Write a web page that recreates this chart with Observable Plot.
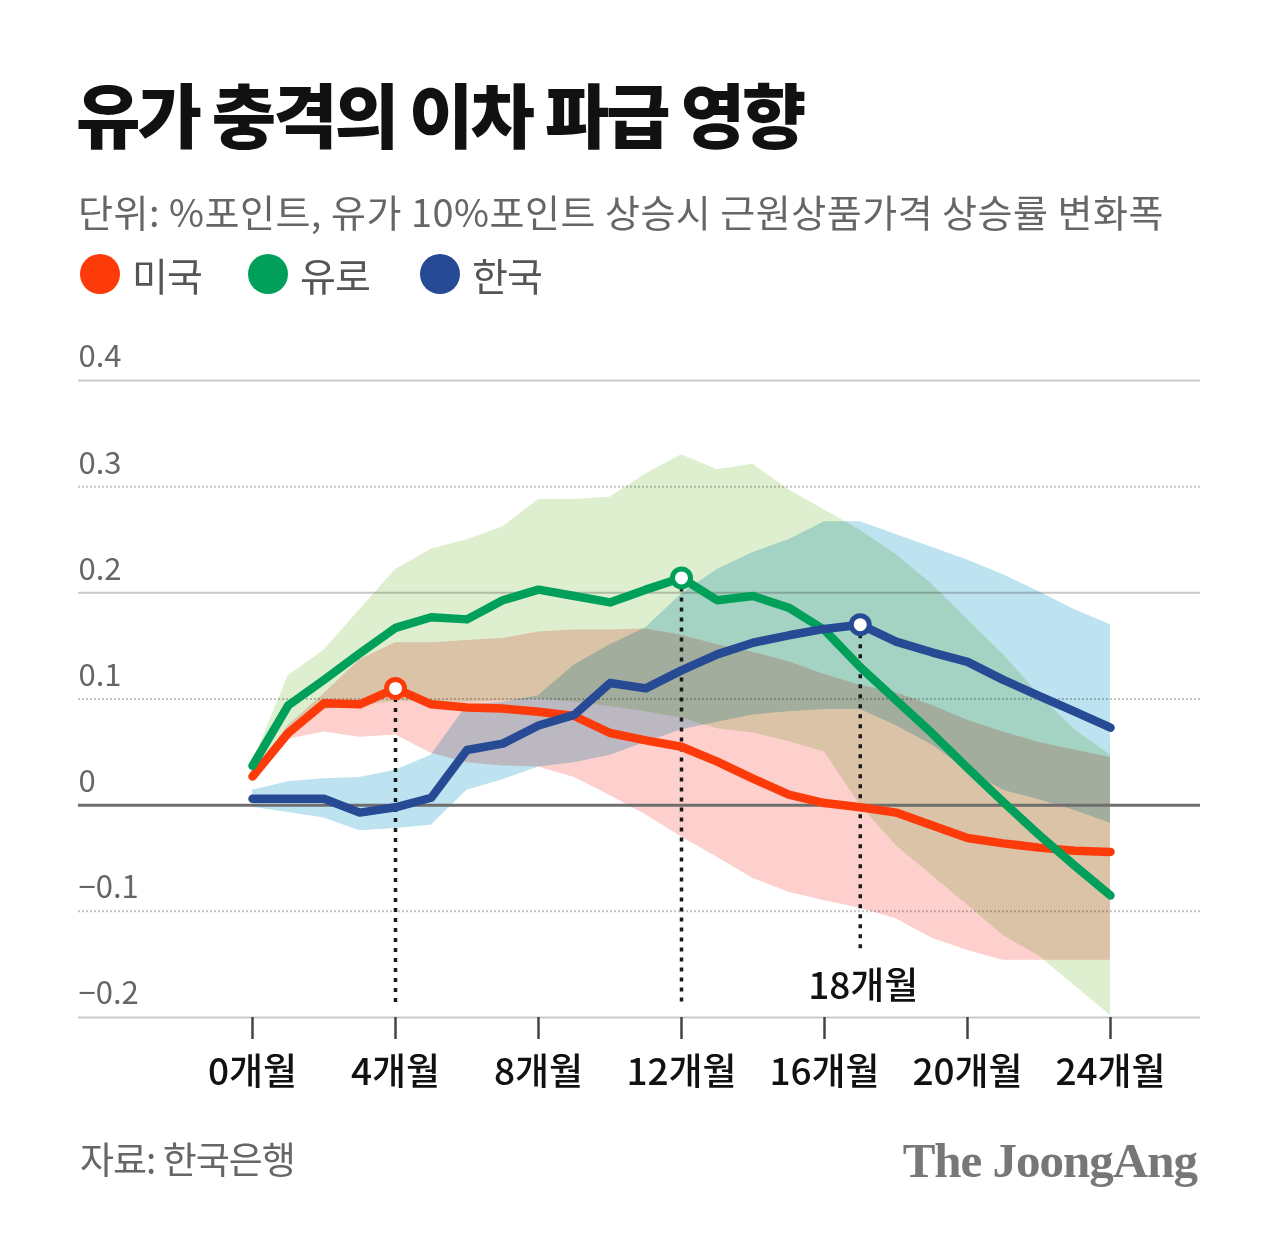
<!DOCTYPE html>
<html><head><meta charset="utf-8">
<script src="https://cdn.jsdelivr.net/npm/d3@7"></script>
<script src="https://cdn.jsdelivr.net/npm/@observablehq/plot@0.6"></script>
<style>
body{margin:0;background:#fff;font-family:"Noto Sans CJK KR","Noto Sans",sans-serif;}
#wrap{position:relative;width:1280px;height:1235px;overflow:hidden;background:#fff;}
#title{position:absolute;left:76px;top:78px;font-size:70px;font-weight:900;line-height:1;letter-spacing:-3px;color:#111;white-space:nowrap;}
#subtitle{position:absolute;left:78px;top:192px;font-size:38px;line-height:1;letter-spacing:0.5px;color:#666;white-space:nowrap;}
#legend{position:absolute;left:0;top:254px;height:40px;width:1280px;}
.item{position:absolute;top:0;display:flex;align-items:center;height:40px;}
.dot{width:40px;height:40px;border-radius:50%;margin-right:12px;}
.lab{font-size:39px;line-height:1;color:#555;letter-spacing:-1px;}
#chart{position:absolute;left:0;top:330px;}
#source{position:absolute;left:80px;top:1140px;font-size:37px;line-height:1;color:#666;letter-spacing:-1px;white-space:nowrap;}
#logo{position:absolute;right:83px;top:1136px;font-family:"Liberation Serif","DejaVu Serif",serif;font-weight:bold;font-size:49px;line-height:1;color:#777;letter-spacing:-1px;white-space:nowrap;}
</style></head><body>
<div id="wrap">
<div id="title">유가 충격의 이차 파급 영향</div>
<div id="subtitle">단위: %포인트, 유가 10%포인트 상승시 근원상품가격 상승률 변화폭</div>
<div id="legend"></div>
<div id="chart"></div>
<div id="source">자료: 한국은행</div>
<div id="logo">The JoongAng</div>
</div>
<script>
// ---- data ----
const months = [0,1,2,3,4,5,6,7,8,9,10,11,12,13,14,15,16,17,18,19,20,21,22,23,24];
const seriesNames = ["미국","유로","한국"];
const seriesColors = ["#fd3a0a","#00a05a","#264a94"];
const bandColors = ["#fdd0ce","#ddefcf","#bde2f0"];

const usLine = [0.027,0.068,0.096,0.095,0.110,0.095,0.092,0.091,0.088,0.084,0.068,0.061,0.055,0.041,0.025,0.010,0.002,-0.002,-0.007,-0.019,-0.031,-0.036,-0.040,-0.043,-0.044];
const euLine = [0.037,0.094,0.118,0.143,0.167,0.177,0.175,0.193,0.203,0.197,0.191,0.203,0.214,0.193,0.197,0.186,0.165,0.130,0.099,0.068,0.035,0.003,-0.028,-0.057,-0.085];
const krLine = [0.006,0.006,0.006,-0.007,-0.002,0.007,0.052,0.058,0.075,0.085,0.115,0.110,0.127,0.142,0.153,0.160,0.166,0.170,0.154,0.144,0.135,0.118,0.103,0.088,0.073];

const usLow  = [0.024,0.062,0.069,0.064,0.066,0.049,0.040,0.037,0.036,0.026,0.009,-0.009,-0.030,-0.049,-0.069,-0.082,-0.090,-0.097,-0.107,-0.125,-0.137,-0.146,-0.146,-0.146,-0.146];
const usHigh = [0.030,0.075,0.105,0.137,0.153,0.153,0.155,0.157,0.163,0.165,0.165,0.166,0.160,0.151,0.144,0.135,0.123,0.113,0.106,0.094,0.080,0.069,0.059,0.052,0.045];
const euLow  = [0.025,0.068,0.090,0.093,0.098,0.097,0.097,0.098,0.100,0.097,0.093,0.088,0.082,0.072,0.068,0.060,0.050,0.000,-0.038,-0.066,-0.094,-0.123,-0.142,-0.170,-0.198];
const euHigh = [0.040,0.122,0.146,0.184,0.222,0.241,0.250,0.262,0.288,0.288,0.290,0.312,0.330,0.316,0.321,0.297,0.278,0.259,0.236,0.208,0.175,0.142,0.104,0.071,0.047];
const krLow  = [-0.002,-0.007,-0.012,-0.024,-0.022,-0.019,0.014,0.024,0.036,0.040,0.047,0.059,0.071,0.078,0.085,0.088,0.090,0.090,0.075,0.057,0.033,0.014,0.005,-0.005,-0.017];
const krHigh = [0.014,0.022,0.025,0.026,0.033,0.047,0.094,0.097,0.103,0.132,0.151,0.167,0.199,0.222,0.238,0.250,0.267,0.267,0.255,0.243,0.231,0.217,0.201,0.184,0.170];

const xTicks = [0,4,8,12,16,20,24];
const xTickLabels = ["0개월","4개월","8개월","12개월","16개월","20개월","24개월"];
const yTicks = [0.4,0.3,0.2,0.1,0,-0.1,-0.2];
const yTickLabels = ["0.4","0.3","0.2","0.1","0","−0.1","−0.2"];
const solidGrid = [0.4,0.2,-0.2];
const dottedGrid = [0.3,0.1,-0.1];

// highlighted peaks: [series index, month]
const peakSeries = [0,1,2];
const peakMonths = [4,12,17];
const peakLabel = "18개월";

// ---- legend ----
const legendLeft = [80,248,420];
const legend = document.getElementById("legend");
seriesNames.forEach((n,i)=>{
  const it = document.createElement("div"); it.className="item";
  it.style.left = legendLeft[i]+"px";
  it.innerHTML = `<div class="dot" style="background:${seriesColors[i]}"></div><div class="lab">${n}</div>`;
  legend.appendChild(it);
});

// ---- chart ----
const lines = [usLine, euLine, krLine];
const lows = [usLow, euLow, krLow];
const highs = [usHigh, euHigh, krHigh];
const peaks = peakSeries.map((s,k)=>({s, m: peakMonths[k], v: lines[s][peakMonths[k]], color: seriesColors[s]}));

const xMin = -174/35.75, xMax = 948/35.75;

const marks = [];
marks.push(Plot.ruleY(solidGrid, {stroke:"#c9c9c9", strokeWidth:2}));
marks.push(Plot.ruleY(dottedGrid, {stroke:"#c4c4c4", strokeWidth:2, strokeDasharray:"2,2"}));
[1,0,2].forEach(s=>{
  marks.push(Plot.areaY(months, {x: months, y1: lows[s], y2: highs[s], fill: bandColors[s], mixBlendMode:"multiply"}));
});
marks.push(Plot.ruleY([0], {stroke:"#6e6e6e", strokeWidth:3}));
marks.push(Plot.text(yTicks, {x: xMin, y: d=>d, text: (d,i)=>yTickLabels[i], textAnchor:"start", dy:-23, fontSize:31, fill:"#666"}));
marks.push(Plot.ruleX(peaks.slice(0,2), {x:"m", y1:"v", y2:-0.189, stroke:"#1a1a1a", strokeWidth:3.5, strokeDasharray:"4,6"}));
marks.push(Plot.ruleX(peaks.slice(2), {x:"m", y1:"v", y2:-0.138, stroke:"#1a1a1a", strokeWidth:3.5, strokeDasharray:"4,6"}));
marks.push(Plot.text(peaks.slice(2), {x:"m", y:-0.171, text:()=>peakLabel, fontSize:37, fontWeight:500, fill:"#111", dx:3}));
[0,1,2].forEach(s=>{
  marks.push(Plot.line(months, {x: months, y: lines[s], stroke: seriesColors[s], strokeWidth:8.5, strokeLinejoin:"round", strokeLinecap:"round"}));
});
marks.push(Plot.dot(peaks, {x:"m", y:"v", r:9, fill:"white", stroke:"color", strokeWidth:5}));
marks.push(Plot.axisX({ticks: xTicks, tickFormat: d=>xTickLabels[xTicks.indexOf(d)], tickSize:22, tickPadding:19, fontSize:37, fontWeight:500, fill:"#111", stroke:"#444", strokeWidth:2.5, label:null}));

const chart = Plot.plot({
  width:1280, height:790,
  marginLeft:78, marginRight:80, marginTop:50, marginBottom:103,
  x:{domain:[xMin,xMax], label:null},
  y:{domain:[-0.2,0.4], axis:null},
  style:{fontFamily:'"Noto Sans CJK KR","Noto Sans",sans-serif', background:"transparent"},
  marks
});
document.getElementById("chart").appendChild(chart);
</script>
</body></html>
